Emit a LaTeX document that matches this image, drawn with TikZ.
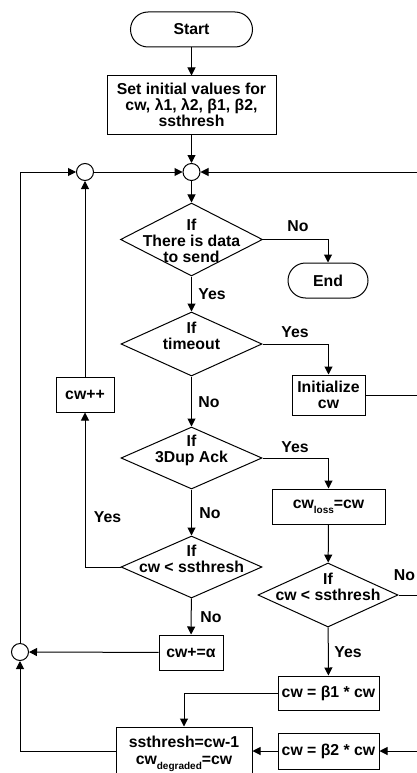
\documentclass[tikz,border=0pt]{standalone}
\usepackage{fontspec}
\setmainfont{Liberation Sans}
\usetikzlibrary{shapes.geometric,shapes.misc,arrows.meta}
\begin{document}
\begin{tikzpicture}[x=1pt,y=-1pt, line width=1pt,
  font=\fontsize{15.8}{16}\selectfont\bfseries,
  box/.style={draw, rectangle, inner sep=0pt, align=center},
  term/.style={draw, rounded rectangle, inner sep=0pt},
  dia/.style={draw, diamond, inner sep=0pt},
  jn/.style={draw, circle, minimum size=17pt, inner sep=0pt},
  arr/.style={-{Triangle[length=8pt,width=8pt]}},
  lbl/.style={inner sep=0pt, align=center}
]
\useasboundingbox (0,0) rectangle (417,773);
\clip (0,0) rectangle (417,773);
\fill[white] (0,0) rectangle (417,773);
\newcommand{\subtxt}[1]{\raisebox{-5pt}{\fontsize{10}{10}\selectfont #1}}

% nodes
\node[term, minimum width=122pt, minimum height=35pt] (start) at (191.5,29.5) {Start};
\node[box, minimum width=169pt, minimum height=58pt] (init) at (191.5,105) {Set initial values for\\cw, λ1, λ2, β1, β2,\\ssthresh};
\node[jn] (j1) at (191.5,172) {};
\node[jn] (j2) at (85,172) {};
\node[jn] (j3) at (20,652) {};

\node[dia, minimum width=142pt, minimum height=73pt] (d1) at (191.5,239.5) {};
\node[lbl] (t1) at (191.5,241) {If\\There is data\\to send};
\node[term, minimum width=80pt, minimum height=35pt] (end) at (328,280.5) {End};

\node[dia, minimum width=141pt, minimum height=64pt] (d2) at (191.5,344) {};
\node[lbl] (t2) at (191.5,336) {If\\timeout};
\node[box, minimum width=73pt, minimum height=40pt] (initcw) at (328.5,395) {Initialize\\cw};

\node[dia, minimum width=141pt, minimum height=62pt] (d3) at (191.5,458) {};
\node[lbl] (t3) at (191.5,450) {If\\3Dup Ack};
\node[box, minimum width=113pt, minimum height=35pt] (loss) at (328.5,506.5) {cw\subtxt{loss}=cw};

\node[dia, minimum width=141pt, minimum height=62pt] (d4) at (191.5,567) {};
\node[lbl] (t4) at (191.5,559) {If\\cw < ssthresh};
\node[box, minimum width=58pt, minimum height=35pt] (cwpp) at (85,394.5) {cw++};
\node[box, minimum width=64pt, minimum height=35pt] (cwa) at (191,652.5) {cw+=α};

\node[dia, minimum width=140pt, minimum height=64pt] (d5) at (328,595) {};
\node[lbl] (t5) at (328,587) {If\\cw < ssthresh};
\node[box, minimum width=101pt, minimum height=34pt] (b1) at (328.5,693) {cw = β1 * cw};
\node[box, minimum width=101pt, minimum height=36pt] (b2) at (328.5,751) {cw = β2 * cw};
\node[box, minimum width=136pt, minimum height=54pt] (ss) at (184,754) {ssthresh=cw-1\\[1pt]cw\subtxt{degraded}=cw};

\coordinate (r1) at (432,0);

% connectors
\draw[arr] (start) -- (init);
\draw[arr] (init) -- (j1);
\draw[arr] (j1) -- (d1);
\draw[arr] (d1.east) -| (end);
\draw[arr] (d1) -- (d2);
\draw[arr] (d2.east) -| (initcw);
\draw[arr] (d2) -- (d3);
\draw[arr] (d3.east) -| (loss);
\draw[arr] (d3) -- (d4);
\draw[arr] (d4) -- (cwa);
\draw[arr] (d4.west) -| (cwpp);
\draw[arr] (cwpp) -- (j2);
\draw[arr] (j2) -- (j1);
\draw[arr] (loss) -- (d5);
\draw[arr] (d5) -- (b1);
\draw[arr] (b1.west) -| (ss);
\draw[arr] (b2.west) -- (b2.west -| ss.east);
\draw[arr] (cwa) -- (j3);
\draw[arr] (b2 -| ss.west) -| (j3);
\draw[arr] (j3) |- (j2);
\draw[arr] (initcw.east) -- (initcw.east -| r1) |- (j1);
\draw[arr] (d5.east) -- (d5.east -| r1) |- (b2);

% labels
\node[lbl] at (298,226) {No};
\node[lbl] at (212,294) {Yes};
\node[lbl] at (295,332) {Yes};
\node[lbl] at (209,402) {No};
\node[lbl] at (295,447) {Yes};
\node[lbl] at (210,513) {No};
\node[lbl] at (107.5,517) {Yes};
\node[lbl] at (211,617) {No};
\node[lbl] at (404.5,575) {No};
\node[lbl] at (348,652) {Yes};
\end{tikzpicture}
\end{document}
